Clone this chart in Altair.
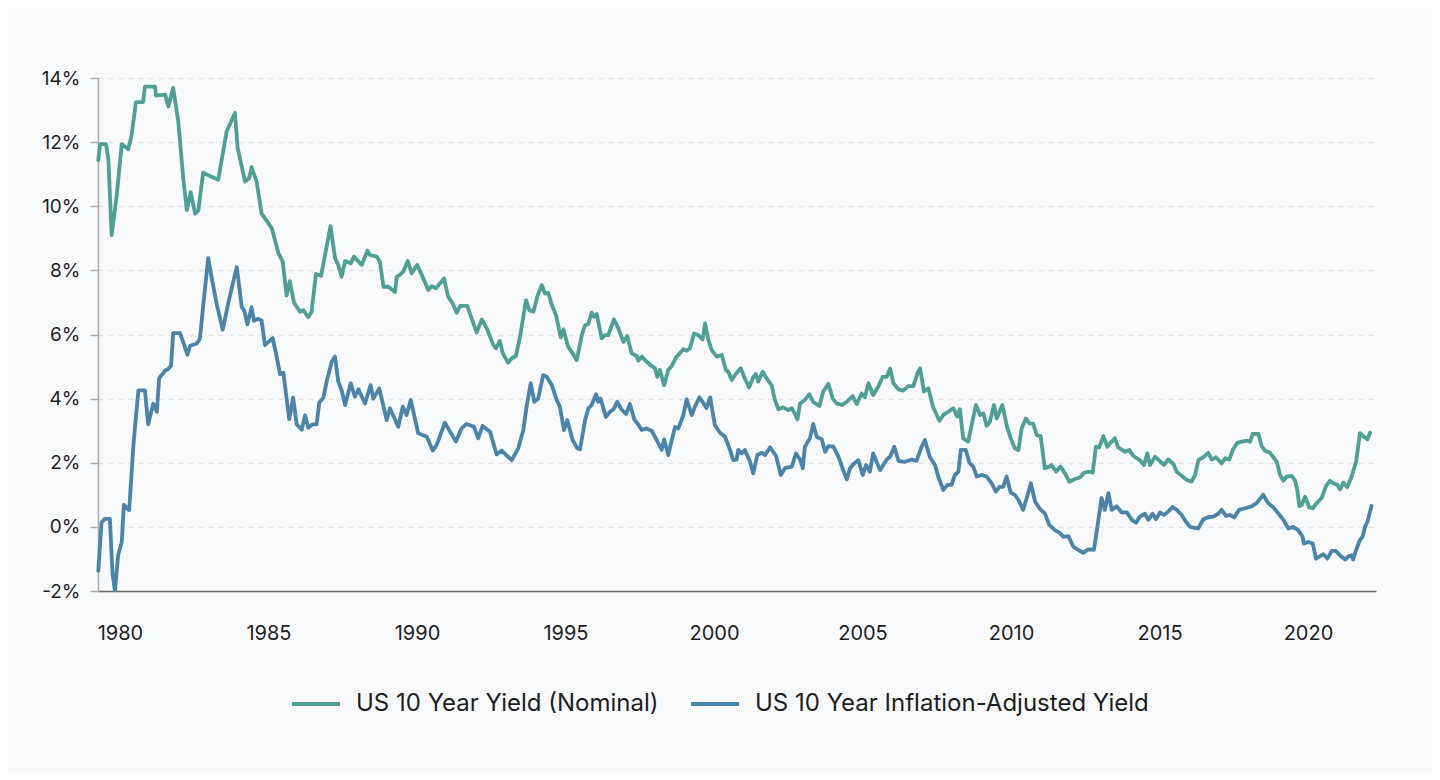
import altair as alt
import pandas as pd

# US 10 Year Yield (Nominal) -- decimal year, percent
nom_year = [1979.27, 1979.33, 1979.53, 1979.61, 1979.72, 1979.89, 1980.06, 1980.28, 1980.39, 1980.54,
            1980.78, 1980.84, 1981.18, 1981.21, 1981.52, 1981.63, 1981.79, 1981.96, 1982.13, 1982.25,
            1982.38, 1982.53, 1982.64, 1982.80, 1983.03, 1983.31, 1983.59, 1983.87, 1983.96, 1984.21,
            1984.35, 1984.43, 1984.60, 1984.77, 1985.11, 1985.33, 1985.48, 1985.61, 1985.72, 1985.86,
            1986.06, 1986.17, 1986.34, 1986.45, 1986.60, 1986.77, 1987.09, 1987.24, 1987.35, 1987.46,
            1987.58, 1987.77, 1987.88, 1988.14, 1988.33, 1988.42, 1988.64, 1988.75, 1988.87, 1989.03,
            1989.26, 1989.32, 1989.45, 1989.54, 1989.69, 1989.82, 1990.01, 1990.21, 1990.38, 1990.50,
            1990.64, 1990.91, 1991.05, 1991.20, 1991.34, 1991.45, 1991.69, 1991.84, 1992.01, 1992.18,
            1992.35, 1992.57, 1992.66, 1992.79, 1992.89, 1993.07, 1993.19, 1993.33, 1993.47, 1993.67,
            1993.78, 1993.92, 1994.05, 1994.20, 1994.31, 1994.42, 1994.54, 1994.68, 1994.84, 1994.93,
            1995.09, 1995.24, 1995.38, 1995.55, 1995.66, 1995.77, 1995.88, 1995.96, 1996.05, 1996.22,
            1996.33, 1996.44, 1996.63, 1996.78, 1996.95, 1997.08, 1997.23, 1997.40, 1997.45, 1997.57,
            1997.73, 1997.90, 1998.01, 1998.09, 1998.18, 1998.32, 1998.46, 1998.58, 1998.74, 1998.80,
            1998.97, 1999.08, 1999.19, 1999.33, 1999.47, 1999.62, 1999.70, 1999.81, 1999.92, 2000.09,
            2000.26, 2000.40, 2000.48, 2000.60, 2000.71, 2000.90, 2001.04, 2001.18, 2001.32, 2001.41,
            2001.49, 2001.64, 2001.77, 2001.94, 2002.05, 2002.17, 2002.33, 2002.50, 2002.62, 2002.73,
            2002.81, 2002.90, 2003.06, 2003.21, 2003.34, 2003.55, 2003.68, 2003.85, 2004.00, 2004.13,
            2004.30, 2004.47, 2004.67, 2004.81, 2004.97, 2005.08, 2005.20, 2005.36, 2005.53, 2005.68,
            2005.82, 2005.93, 2006.04, 2006.21, 2006.37, 2006.54, 2006.71, 2006.85, 2006.94, 2007.07,
            2007.22, 2007.38, 2007.59, 2007.72, 2007.89, 2008.06, 2008.19, 2008.28, 2008.39, 2008.56,
            2008.71, 2008.82, 2008.96, 2009.07, 2009.18, 2009.29, 2009.43, 2009.52, 2009.71, 2009.86,
            2009.99, 2010.13, 2010.25, 2010.36, 2010.50, 2010.62, 2010.75, 2010.87, 2011.00, 2011.14,
            2011.29, 2011.37, 2011.52, 2011.67, 2011.82, 2011.96, 2012.12, 2012.32, 2012.46, 2012.66,
            2012.75, 2012.86, 2012.97, 2013.11, 2013.24, 2013.39, 2013.50, 2013.61, 2013.84, 2013.98,
            2014.12, 2014.34, 2014.48, 2014.59, 2014.68, 2014.85, 2015.02, 2015.15, 2015.30, 2015.47,
            2015.58, 2015.75, 2015.92, 2016.08, 2016.20, 2016.31, 2016.47, 2016.64, 2016.76, 2016.90,
            2017.04, 2017.09, 2017.21, 2017.35, 2017.48, 2017.62, 2017.77, 2017.94, 2018.05, 2018.14,
            2018.33, 2018.44, 2018.55, 2018.72, 2018.86, 2018.95, 2019.06, 2019.17, 2019.28, 2019.45,
            2019.56, 2019.64, 2019.71, 2019.79, 2019.90, 2020.04, 2020.16, 2020.29, 2020.46, 2020.61,
            2020.74, 2020.85, 2020.99, 2021.08, 2021.19, 2021.32, 2021.47, 2021.62, 2021.75, 2021.89,
            2022.00, 2022.09]
nom_value = [11.44, 11.94, 11.94, 11.44, 9.10, 10.33, 11.94, 11.78, 12.22, 13.25,
             13.25, 13.73, 13.73, 13.45, 13.48, 13.11, 13.69, 12.67, 10.88, 9.88,
             10.44, 9.77, 9.88, 11.05, 10.94, 10.83, 12.33, 12.91, 11.83, 10.77,
             10.88, 11.22, 10.77, 9.77, 9.32, 8.55, 8.27, 7.21, 7.66, 6.99,
             6.71, 6.76, 6.54, 6.71, 7.89, 7.83, 9.38, 8.38, 8.17, 7.80,
             8.29, 8.22, 8.43, 8.17, 8.61, 8.48, 8.43, 8.27, 7.49, 7.49,
             7.33, 7.80, 7.88, 7.96, 8.29, 7.91, 8.17, 7.75, 7.39, 7.51,
             7.44, 7.75, 7.18, 6.97, 6.68, 6.89, 6.89, 6.50, 6.06, 6.47,
             6.19, 5.67, 5.57, 5.80, 5.41, 5.12, 5.26, 5.33, 5.93, 7.07,
             6.76, 6.71, 7.18, 7.54, 7.28, 7.30, 6.92, 6.61, 5.91, 6.16,
             5.62, 5.41, 5.20, 5.98, 6.29, 6.33, 6.68, 6.55, 6.64, 5.88,
             5.98, 5.98, 6.47, 6.19, 5.77, 5.95, 5.41, 5.33, 5.18, 5.31,
             5.15, 5.02, 4.95, 4.68, 4.89, 4.42, 4.89, 5.02, 5.31, 5.36,
             5.54, 5.49, 5.57, 6.03, 5.98, 5.85, 6.35, 5.83, 5.52, 5.31,
             5.36, 4.89, 4.84, 4.58, 4.74, 4.95, 4.63, 4.35, 4.66, 4.77,
             4.53, 4.84, 4.63, 4.42, 3.96, 3.67, 3.73, 3.64, 3.70, 3.52,
             3.35, 3.85, 3.96, 4.14, 3.90, 3.77, 4.22, 4.46, 4.00, 3.85,
             3.80, 3.90, 4.08, 3.83, 4.16, 4.04, 4.48, 4.11, 4.37, 4.68,
             4.68, 4.94, 4.48, 4.29, 4.25, 4.39, 4.39, 4.79, 4.94, 4.22,
             4.32, 3.73, 3.31, 3.49, 3.59, 3.70, 3.44, 3.67, 2.76, 2.66,
             3.33, 3.80, 3.49, 3.54, 3.15, 3.28, 3.80, 3.38, 3.80, 3.15,
             2.76, 2.45, 2.40, 3.07, 3.38, 3.23, 3.21, 2.86, 2.83, 1.83,
             1.88, 1.93, 1.72, 1.88, 1.67, 1.41, 1.48, 1.54, 1.69, 1.72,
             1.69, 2.50, 2.48, 2.83, 2.50, 2.66, 2.76, 2.48, 2.34, 2.40,
             2.21, 2.08, 1.93, 2.29, 1.93, 2.19, 2.04, 1.93, 2.10, 1.96,
             1.72, 1.59, 1.46, 1.41, 1.62, 2.08, 2.17, 2.31, 2.10, 2.17,
             2.03, 1.98, 2.14, 2.10, 2.42, 2.62, 2.66, 2.69, 2.66, 2.90,
             2.90, 2.52, 2.38, 2.31, 2.14, 2.03, 1.62, 1.44, 1.57, 1.59,
             1.46, 1.15, 0.65, 0.68, 0.94, 0.61, 0.58, 0.74, 0.90, 1.28,
             1.44, 1.36, 1.31, 1.17, 1.38, 1.24, 1.57, 2.03, 2.92, 2.81,
             2.73, 2.94]

# US 10 Year Inflation-Adjusted Yield -- decimal year, percent
real_year = [1979.27, 1979.38, 1979.49, 1979.66, 1979.75, 1979.83, 1979.94, 1980.06, 1980.13, 1980.31,
             1980.45, 1980.62, 1980.84, 1980.95, 1981.12, 1981.24, 1981.32, 1981.52, 1981.63, 1981.72,
             1981.79, 1982.02, 1982.13, 1982.27, 1982.36, 1982.58, 1982.69, 1982.80, 1982.97, 1983.12,
             1983.26, 1983.46, 1983.68, 1983.93, 1983.98, 1984.10, 1984.18, 1984.29, 1984.43, 1984.51,
             1984.66, 1984.77, 1984.88, 1984.99, 1985.14, 1985.25, 1985.39, 1985.50, 1985.70, 1985.83,
             1985.95, 1986.12, 1986.23, 1986.34, 1986.49, 1986.62, 1986.71, 1986.85, 1986.96, 1987.13,
             1987.24, 1987.35, 1987.46, 1987.58, 1987.77, 1987.91, 1988.03, 1988.25, 1988.44, 1988.53,
             1988.73, 1988.98, 1989.09, 1989.37, 1989.52, 1989.65, 1989.79, 1990.04, 1990.33, 1990.53,
             1990.66, 1990.94, 1991.31, 1991.50, 1991.67, 1991.92, 1992.06, 1992.21, 1992.46, 1992.68,
             1992.85, 1993.19, 1993.41, 1993.58, 1993.69, 1993.83, 1993.95, 1994.08, 1994.25, 1994.37,
             1994.54, 1994.70, 1994.81, 1994.95, 1995.06, 1995.24, 1995.40, 1995.49, 1995.66, 1995.77,
             1995.88, 1996.03, 1996.10, 1996.18, 1996.36, 1996.50, 1996.61, 1996.74, 1996.89, 1997.04,
             1997.17, 1997.32, 1997.42, 1997.57, 1997.73, 1997.90, 1998.07, 1998.24, 1998.32, 1998.46,
             1998.58, 1998.69, 1998.80, 1998.97, 1999.08, 1999.25, 1999.36, 1999.51, 1999.64, 1999.75,
             1999.87, 2000.03, 2000.20, 2000.37, 2000.54, 2000.65, 2000.76, 2000.82, 2000.93, 2001.04,
             2001.21, 2001.32, 2001.46, 2001.61, 2001.72, 2001.89, 2002.09, 2002.25, 2002.39, 2002.62,
             2002.76, 2002.90, 2002.99, 2003.06, 2003.23, 2003.34, 2003.46, 2003.63, 2003.74, 2003.85,
             2004.02, 2004.19, 2004.35, 2004.47, 2004.58, 2004.71, 2004.86, 2005.01, 2005.12, 2005.25,
             2005.36, 2005.59, 2005.82, 2005.93, 2006.07, 2006.21, 2006.43, 2006.66, 2006.82, 2006.97,
             2007.10, 2007.27, 2007.44, 2007.55, 2007.72, 2007.86, 2008.00, 2008.11, 2008.23, 2008.31,
             2008.48, 2008.60, 2008.73, 2008.85, 2009.01, 2009.18, 2009.35, 2009.49, 2009.61, 2009.74,
             2009.85, 2009.99, 2010.13, 2010.28, 2010.41, 2010.53, 2010.67, 2010.81, 2010.98, 2011.14,
             2011.29, 2011.48, 2011.63, 2011.76, 2011.93, 2012.10, 2012.27, 2012.43, 2012.60, 2012.79,
             2012.91, 2013.05, 2013.16, 2013.28, 2013.39, 2013.56, 2013.73, 2013.90, 2014.07, 2014.21,
             2014.34, 2014.51, 2014.62, 2014.77, 2014.88, 2015.02, 2015.15, 2015.30, 2015.44, 2015.58,
             2015.75, 2015.89, 2016.03, 2016.13, 2016.30, 2016.47, 2016.64, 2016.81, 2016.98, 2017.09,
             2017.24, 2017.37, 2017.52, 2017.68, 2017.88, 2018.10, 2018.27, 2018.49, 2018.66, 2018.83,
             2019.00, 2019.17, 2019.34, 2019.50, 2019.67, 2019.82, 2019.86, 2020.01, 2020.16, 2020.27,
             2020.40, 2020.52, 2020.65, 2020.80, 2020.94, 2021.08, 2021.25, 2021.36, 2021.47, 2021.52,
             2021.62, 2021.75, 2021.84, 2021.92, 2022.00, 2022.14]
real_value = [-1.37, 0.14, 0.25, 0.25, -1.48, -1.98, -0.87, -0.48, 0.69, 0.52,
              2.53, 4.26, 4.26, 3.20, 3.84, 3.59, 4.64, 4.87, 4.93, 5.03,
              6.04, 6.04, 5.76, 5.37, 5.65, 5.71, 5.87, 6.88, 8.38, 7.60,
              6.93, 6.15, 7.12, 8.10, 7.76, 6.85, 6.76, 6.32, 6.85, 6.43,
              6.49, 6.43, 5.67, 5.76, 5.89, 5.43, 4.76, 4.81, 3.36, 4.03,
              3.20, 3.03, 3.48, 3.09, 3.20, 3.20, 3.87, 4.03, 4.54, 5.15,
              5.31, 4.53, 4.27, 3.80, 4.48, 4.06, 4.29, 3.85, 4.42, 4.00,
              4.32, 3.33, 3.70, 3.12, 3.75, 3.49, 3.96, 2.92, 2.81, 2.38,
              2.55, 3.25, 2.66, 3.07, 3.21, 3.12, 2.76, 3.15, 2.97, 2.26,
              2.38, 2.08, 2.45, 3.02, 3.75, 4.48, 3.90, 4.00, 4.73, 4.68,
              4.42, 3.96, 3.75, 3.02, 3.33, 2.71, 2.45, 2.42, 3.33, 3.70,
              3.80, 4.14, 3.90, 4.00, 3.43, 3.59, 3.66, 3.90, 3.66, 3.52,
              3.83, 3.35, 3.23, 3.02, 3.07, 3.00, 2.71, 2.40, 2.73, 2.24,
              2.71, 3.12, 3.07, 3.49, 3.98, 3.49, 3.75, 4.04, 3.87, 3.70,
              4.04, 3.17, 2.94, 2.81, 2.40, 2.08, 2.10, 2.40, 2.29, 2.40,
              2.04, 1.67, 2.24, 2.31, 2.24, 2.48, 2.21, 1.62, 1.83, 1.88,
              2.29, 2.10, 1.83, 2.50, 2.76, 3.21, 2.81, 2.73, 2.34, 2.52,
              2.50, 2.19, 1.77, 1.48, 1.83, 1.97, 2.08, 1.62, 1.93, 1.72,
              2.29, 1.77, 2.10, 2.19, 2.50, 2.06, 2.03, 2.10, 2.06, 2.45,
              2.71, 2.17, 1.93, 1.57, 1.15, 1.31, 1.31, 1.62, 1.72, 2.40,
              2.40, 2.00, 1.88, 1.57, 1.62, 1.57, 1.36, 1.10, 1.25, 1.25,
              1.57, 1.07, 1.00, 0.79, 0.53, 0.90, 1.36, 0.79, 0.55, 0.42,
              0.06, -0.10, -0.18, -0.31, -0.29, -0.62, -0.72, -0.81, -0.70, -0.72,
              0.00, 0.90, 0.53, 1.05, 0.53, 0.64, 0.45, 0.45, 0.22, 0.13,
              0.32, 0.41, 0.22, 0.41, 0.24, 0.45, 0.37, 0.48, 0.62, 0.53,
              0.37, 0.16, 0.00, -0.02, -0.05, 0.23, 0.30, 0.32, 0.41, 0.53,
              0.34, 0.37, 0.30, 0.53, 0.58, 0.64, 0.74, 1.00, 0.74, 0.61,
              0.42, 0.22, -0.05, 0.00, -0.10, -0.31, -0.52, -0.47, -0.52, -0.99,
              -0.92, -0.85, -0.99, -0.75, -0.75, -0.89, -1.02, -0.92, -0.89, -1.02,
              -0.72, -0.41, -0.31, 0.00, 0.16, 0.65]

series_names = ["US 10 Year Yield (Nominal)", "US 10 Year Inflation-Adjusted Yield"]
series_colors = ["#4f9f94", "#4b84a8"]
y_ticks = [-2, 0, 2, 4, 6, 8, 10, 12, 14]
x_ticks = [1980, 1985, 1990, 1995, 2000, 2005, 2010, 2015, 2020]

df = pd.concat([
    pd.DataFrame({"year": nom_year, "value": nom_value, "series": series_names[0], "order": range(len(nom_year))}),
    pd.DataFrame({"year": real_year, "value": real_value, "series": series_names[1], "order": range(len(real_year))}),
])

FONT = "Inter"

chart = alt.Chart(df).mark_line(strokeWidth=3.8, strokeJoin="round", strokeCap="round").encode(
    x=alt.X("year:Q",
            scale=alt.Scale(domain=[1979.26, 2022.29], nice=False, zero=False),
            axis=alt.Axis(values=x_ticks, format="d", title=None, ticks=False, grid=False,
                          domainColor="#6b6b6b", domainWidth=1.5,
                          labelFontSize=20, labelColor="#1e1e1e", labelPadding=32,
                          labelFont=FONT)),
    y=alt.Y("value:Q",
            scale=alt.Scale(domain=[-2, 14], nice=False, zero=False),
            axis=alt.Axis(values=y_ticks, title=None, labelExpr="datum.value + '%'",
                          grid=True, gridColor="#e1e3e6", gridDash=[5, 5], gridWidth=1.5,
                          domainColor="#acacac", domainWidth=1.5,
                          tickColor="#acacac", tickWidth=1.5, tickSize=8,
                          labelFontSize=19, labelColor="#1e1e1e", labelPadding=10,
                          labelFont=FONT)),
    color=alt.Color("series:N",
                    scale=alt.Scale(domain=series_names, range=series_colors),
                    legend=alt.Legend(title=None, orient="none", legendX=192, legendY=600,
                                      direction="horizontal", symbolType="stroke",
                                      symbolSize=2304, symbolStrokeWidth=4,
                                      labelFontSize=24, labelFont=FONT, labelColor="#1e1e1e",
                                      labelOffset=14, columnPadding=24, padding=0,
                                      labelLimit=700)),
    detail="series:N",
    order="order:Q",
).properties(
    width=1278, height=513,
    background="#f7f9fb",
    padding={"left": 90, "top": 70, "right": 56, "bottom": 181},
    autosize=alt.AutoSizeParams(type="none"),
).configure_view(stroke=None)

chart.save("out.html", embed_options={"renderer": "svg", "actions": False})
